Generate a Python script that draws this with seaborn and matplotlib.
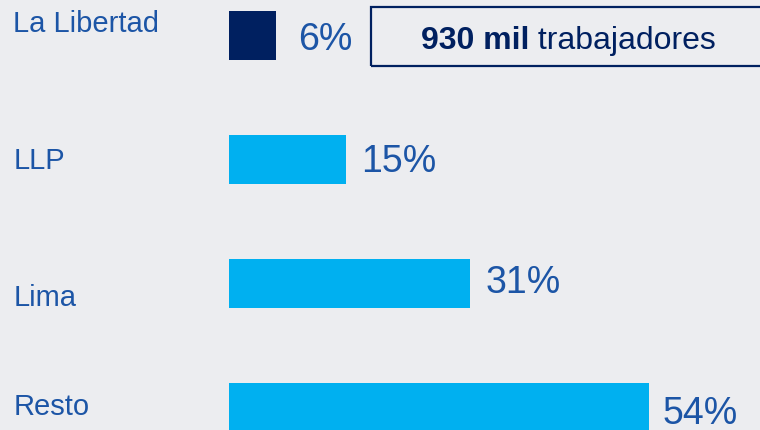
import matplotlib
matplotlib.use("Agg")
import matplotlib.pyplot as plt
import seaborn as sns
import pandas as pd
from matplotlib.patches import Rectangle

# ---- data ----
regions = ["La Libertad", "LLP", "Lima", "Resto"]
shares = [6, 15, 31, 54]
share_labels = ["6%", "15%", "31%", "54%"]
bar_colors = ["#002060", "#00B0F0", "#00B0F0", "#00B0F0"]
box_bold = "930 mil"
box_regular = " trabajadores"

BG = "#ECEDF0"
TXT = "#1C55A6"
NAVY = "#002060"

sns.set_theme(style="white")
plt.rcParams["font.family"] = ["Liberation Sans", "DejaVu Sans"]

DPI = 100
fig = plt.figure(figsize=(7.6, 4.31), dpi=DPI, facecolor=BG)
ax = fig.add_axes([0, 0, 1, 1])
ax.set_facecolor(BG)

df = pd.DataFrame({"region": regions, "share": shares})
sns.barplot(data=df, x="share", y="region", hue="region", palette=bar_colors,
            order=regions, hue_order=regions, width=0.403, legend=False,
            orient="h", ax=ax, saturation=1, linewidth=0, edgecolor="none")

px_per_unit = 420 / 54.0
ax.set_xlim(-229 / px_per_unit, (760 - 229) / px_per_unit)
ax.set_ylim((431 - 36.5) / 124.0, -36.5 / 124.0)
ax.axis("off")

P = 72.0 / DPI  # points per pixel

# left category labels (baseline offsets in px, relative to bar centre)
lab_dy = [-4.5, 8.5, 21.5, 6.5]
for i, (name, dy) in enumerate(zip(regions, lab_dy)):
    ax.annotate(name, xy=(0, i), xycoords=("figure fraction", "data"),
                xytext=(13.5 * P, -dy * P), textcoords="offset points",
                ha="left", va="baseline", fontsize=21, color=TXT)

# value labels
val_dx = [22, 15, 15, 14]
val_dy = [13.5, 11.5, 9.0, 15.5]
for i, (v, s, dx, dy) in enumerate(zip(shares, share_labels, val_dx, val_dy)):
    ax.annotate(s, xy=(v, i), xycoords="data",
                xytext=(dx * P, -dy * P), textcoords="offset points",
                ha="left", va="baseline", fontsize=27, color=TXT)

# annotation box
W, H = 760.0, 431.0
fig.patches.append(Rectangle((371 / W, (H - 67) / H), 400 / W, 59 / H,
                             transform=fig.transFigure, fill=False,
                             edgecolor=NAVY, linewidth=1.6, zorder=5))
t1 = fig.text(421 / W, (H - 49) / H, box_bold, fontsize=23, fontweight="bold",
              color=NAVY, ha="left", va="baseline")
fig.canvas.draw()
bb = t1.get_window_extent()
fig.text(bb.x1 / W, (H - 49) / H, box_regular, fontsize=23, color=NAVY,
         ha="left", va="baseline")

fig.savefig("out.png", dpi=DPI, facecolor=BG)
